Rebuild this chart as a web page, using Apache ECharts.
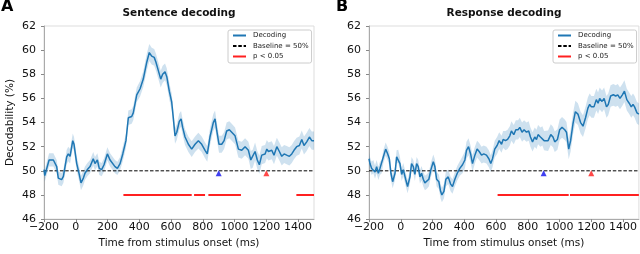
<!DOCTYPE html>
<html>
<head>
<meta charset="utf-8">
<script src="https://cdn.jsdelivr.net/npm/echarts@6/dist/echarts.min.js"></script>
<style>html,body{margin:0;padding:0;background:#fff}#c{width:640px;height:254px}</style>
</head>
<body>
<div id="c"></div>
<script>
// ---- Panel A: Sentence decoding ----
const tA = [-200,-195,-168,-141,-120,-110,-89,-78,-57,-47,
  -36,-19,-11,6,22,33,48,58,73,90,
  110,121,136,148,163,178,199,216,247,262,
  279,296,316,331,352,362,384,405,425,447,
  463,478,494,505,520,535,547,562,573,589,
  604,614,625,636,652,663,673,688,709,730,
  751,772,793,814,828,845,866,877,888,902,
  919,934,950,967,982,1003,1024,1045,1066,1087,
  1102,1114,1129,1143,1156,1171,1192,1203,1213,1234,
  1248,1266,1282,1297,1312,1328,1345,1360,1374,1391,
  1408,1423,1437,1454,1471,1486,1500];
const vA = [50.1,49.6,50.9,50.9,50.35,49.4,49.27,49.54,51.15,51.4,
  51.2,52.5,52.2,50.6,49.7,49.0,49.4,49.8,50.1,50.35,
  51.0,50.6,50.9,50.2,50.1,50.5,51.4,50.9,50.35,50.2,
  50.6,51.4,52.5,54.4,54.5,54.8,56.3,56.8,57.6,59.0,
  59.8,59.5,59.4,59.0,58.3,57.6,58.0,58.2,57.8,56.6,
  55.7,54.4,52.9,53.2,54.1,54.3,53.6,52.8,52.2,51.8,
  52.2,52.5,52.2,51.7,51.4,52.8,54.0,54.3,53.3,52.2,
  52.2,52.5,53.3,53.4,53.2,52.9,51.8,51.7,52.0,51.7,
  50.9,51.0,51.6,50.9,50.5,51.3,51.4,51.8,51.6,51.7,
  51.3,52.0,51.6,51.2,51.4,51.3,51.2,51.4,51.7,52.0,
  52.1,52.6,52.1,52.4,52.8,52.5,52.5];
const eA = [.5,.5,.55,.55,.55,.55,.55,.55,.6,.6,
  .6,.6,.6,.6,.6,.6,.6,.55,.55,.55,
  .55,.55,.55,.55,.55,.55,.55,.55,.55,.55,
  .55,.6,.6,.6,.6,.6,.6,.65,.65,.7,
  .7,.7,.7,.7,.7,.7,.7,.7,.7,.7,
  .7,.7,.65,.65,.65,.65,.65,.65,.65,.65,
  .65,.65,.65,.65,.65,.7,.7,.7,.7,.7,
  .7,.7,.7,.7,.7,.7,.7,.7,.7,.7,
  .75,.75,.75,.75,.75,.75,.75,.75,.75,.75,
  .75,.75,.75,.75,.75,.75,.75,.75,.75,.75,
  .75,.75,.75,.75,.75,.75,.75];
const sigA = [[300,730],[745,814],[835,1040],[1389,1500]];

// ---- Panel B: Response decoding ----
const tB = [-200,-194,-183,-173,-162,-152,-141,-131,-120,-110,
  -95,-82,-72,-62,-51,-36,-26,-16,-5,6,
  16,31,43,58,68,79,89,100,110,121,
  131,142,152,163,177,190,205,215,226,240,
  251,259,272,284,299,314,326,341,356,372,
  389,404,414,427,440,452,467,481,494,509,
  523,540,555,567,578,592,607,620,635,645,
  660,673,687,697,712,725,739,750,764,777,
  792,806,817,830,844,855,865,880,892,903,
  928,945,959,970,987,1001,1016,1033,1044,1058,
  1070,1085,1100,1116,1133,1148,1164,1179,1190,1201,
  1217,1232,1243,1253,1268,1281,1296,1307,1322,1339,
  1354,1367,1381,1396,1409,1424,1439,1452,1463,1473,
  1488,1500];
const vB = [51.0,50.6,50.2,50.35,49.9,50.35,49.8,50.2,50.35,51.15,
  51.8,51.4,51.0,49.8,49.1,49.8,51.15,51.2,50.6,49.7,
  50.1,49.3,48.7,49.5,50.6,50.35,49.7,50.6,50.35,49.5,
  49.8,49.3,49.0,49.1,49.3,50.1,50.75,50.35,49.3,49.1,
  48.3,48.0,48.3,49.3,49.5,48.9,48.7,49.3,49.8,50.2,
  50.5,50.9,51.7,52.0,51.4,50.6,51.3,51.8,51.6,51.3,
  51.4,51.3,51.0,50.6,51.0,51.8,52.1,52.5,52.2,52.6,
  52.5,52.6,52.9,53.3,53.0,53.4,53.4,53.6,53.2,53.4,
  53.2,53.3,52.8,52.4,52.8,52.6,53.0,52.8,52.9,52.5,
  52.5,53.0,52.8,52.4,52.6,53.4,53.6,53.4,53.2,51.8,
  52.5,53.9,54.9,54.7,54.0,53.7,54.4,55.2,55.5,55.3,
  55.3,55.9,55.6,56.0,55.75,56.0,55.3,55.5,56.2,56.3,
  56.2,56.3,56.0,56.3,56.6,55.9,55.6,55.3,55.5,55.3,
  54.8,54.7];
const eB = [.55,.55,.55,.55,.55,.55,.55,.55,.55,.55,
  .55,.55,.55,.55,.55,.55,.55,.55,.55,.55,
  .55,.55,.55,.55,.55,.55,.55,.55,.55,.55,
  .6,.6,.6,.6,.6,.6,.6,.6,.6,.6,
  .6,.6,.6,.6,.6,.6,.6,.6,.6,.6,
  .7,.7,.7,.7,.7,.7,.7,.7,.7,.7,
  .7,.7,.7,.7,.7,.7,.7,.7,.7,.7,
  .8,.8,.8,.8,.8,.8,.8,.8,.8,.8,
  .8,.8,.8,.8,.8,.8,.8,.8,.8,.8,
  .85,.85,.85,.85,.85,.85,.85,.85,.85,.85,
  .9,.9,.9,.9,.9,.9,.9,.9,.9,.9,
  .9,.9,.9,.9,.9,.9,.9,.9,.9,.9,
  .9,.9,.9,.9,.9,.9,.9,.9,.9,.9,
  .9,.9];
const sigB = [[610,1058],[1066,1500]];

// shared
const xTicks = {min: -200, max: 1500, interval: 200};
const yTicks = {min: 46, max: 62, interval: 2};
const baseline = 50;
const sigLevel = 48;
const markerY = 49.8;
const markerTimes = [900, 1200];
const titles = ['Sentence decoding', 'Response decoding'];
const letters = ['A', 'B'];
const xName = 'Time from stimulus onset (ms)';
const yName = 'Decodability (%)';

const FONT = 'DejaVu Sans';
const BLUE = '#1f77b4';
const grids = [
  {left: 44, top: 26, width: 270, height: 197},
  {left: 369, top: 26, width: 270, height: 197}
];

function bandSeries(t, v, e, idx) {
  return {
    type: 'custom', xAxisIndex: idx, yAxisIndex: idx, silent: true, z: 1,
    data: t.map((x, i) => [x, v[i] - e[i], v[i] + e[i]]),
    renderItem: function (params, api) {
      if (params.dataIndex !== 0) return null;
      const up = [], lo = [];
      for (let i = 0; i < t.length; i++) {
        up.push(api.coord([t[i], v[i] + e[i]]));
        lo.push(api.coord([t[i], v[i] - e[i]]));
      }
      return {type: 'polygon', shape: {points: up.concat(lo.reverse())},
        style: {fill: 'rgba(31,119,180,0.22)'}};
    }
  };
}
function sigData(segs) {
  const d = [];
  segs.forEach(s => { d.push([s[0], sigLevel]); d.push([s[1], sigLevel]); d.push([s[1] + 0.5, null]); });
  return d;
}
function panelSeries(t, v, e, segs, idx) {
  return [
    bandSeries(t, v, e, idx),
    {name: 'Decoding', type: 'line', xAxisIndex: idx, yAxisIndex: idx, z: 3,
      data: t.map((x, i) => [x, v[i]]), symbol: 'none', showSymbol: false,
      lineStyle: {color: BLUE, width: 1.5}, itemStyle: {color: BLUE}},
    {name: 'Baseline = 50%', type: 'line', xAxisIndex: idx, yAxisIndex: idx, z: 2,
      data: [[xTicks.min, baseline], [xTicks.max, baseline]], symbol: 'none',
      lineStyle: {color: '#000', width: 1, type: [3.5, 1.8]}, itemStyle: {color: '#000'}},
    {name: 'p < 0.05', type: 'line', xAxisIndex: idx, yAxisIndex: idx, z: 2,
      data: sigData(segs), symbol: 'none', connectNulls: false,
      lineStyle: {color: '#ff2020', width: 2}, itemStyle: {color: '#ff2020'}},
    {type: 'scatter', xAxisIndex: idx, yAxisIndex: idx, z: 4, silent: true,
      symbol: 'triangle', symbolSize: 6,
      data: [
        {value: [markerTimes[0], markerY], itemStyle: {color: '#1010ee'}},
        {value: [markerTimes[1], markerY], itemStyle: {color: '#ff1a1a'}}
      ]}
  ];
}
function xAxis(idx) {
  return {
    type: 'value', gridIndex: idx, min: xTicks.min, max: xTicks.max, interval: xTicks.interval,
    name: xName, nameLocation: 'middle', nameGap: 17,
    nameTextStyle: {fontSize: 10.5, color: '#111', fontFamily: FONT},
    axisLine: {show: true, onZero: false, lineStyle: {color: '#aaa', width: 1}},
    axisTick: {show: true, length: 3, lineStyle: {color: '#888'}},
    splitLine: {show: false},
    axisLabel: {fontSize: 11, color: '#111', fontFamily: FONT, margin: 3, showMaxLabel: false,
      formatter: v => (v < 0 ? '\u2212' + Math.abs(v) : String(v))}
  };
}
function yAxis(idx) {
  return {
    type: 'value', gridIndex: idx, min: yTicks.min, max: yTicks.max, interval: yTicks.interval,
    name: idx === 0 ? yName : '', nameLocation: 'middle', nameGap: 28,
    nameTextStyle: {fontSize: 10.5, color: '#111', fontFamily: FONT},
    axisLine: {show: true, onZero: false, lineStyle: {color: '#aaa', width: 1}},
    axisTick: {show: true, length: 3, lineStyle: {color: '#888'}},
    splitLine: {show: false},
    axisLabel: {fontSize: 11, color: '#111', fontFamily: FONT, margin: 8}
  };
}
function legend(left) {
  return {
    left: left, top: 30, orient: 'vertical', selectedMode: false,
    data: ['Decoding', 'Baseline = 50%', 'p < 0.05'],
    itemWidth: 13, itemHeight: 7, itemGap: 3.5,
    padding: [2, 3, 3, 4],
    itemStyle: {opacity: 0, borderWidth: 0},
    backgroundColor: '#fff', borderColor: '#ccc', borderWidth: 1, borderRadius: 2,
    textStyle: {fontSize: 7, color: '#222', fontFamily: FONT, padding: [0, 0, 0, 2]}
  };
}

const chart = echarts.init(document.getElementById('c'), null, {renderer: 'canvas'});
chart.setOption({
  animation: false,
  textStyle: {fontFamily: FONT},
  title: [
    {text: titles[0], left: 179, top: 8, textAlign: 'center', padding: 0,
      textStyle: {fontSize: 10.5, fontWeight: 'bold', color: '#111', fontFamily: FONT}},
    {text: titles[1], left: 504, top: 8, textAlign: 'center', padding: 0,
      textStyle: {fontSize: 10.5, fontWeight: 'bold', color: '#111', fontFamily: FONT}},
    {text: letters[0], left: 1, top: -1, padding: 0,
      textStyle: {fontSize: 16, fontWeight: 'bold', color: '#000', fontFamily: FONT}},
    {text: letters[1], left: 336, top: -1, padding: 0,
      textStyle: {fontSize: 16, fontWeight: 'bold', color: '#000', fontFamily: FONT}}
  ],
  grid: grids.map(g => Object.assign({show: true, borderColor: '#ddd', borderWidth: 1, backgroundColor: 'transparent'}, g)),
  legend: [legend(228), legend(553)],
  xAxis: [xAxis(0), xAxis(1)],
  yAxis: [yAxis(0), yAxis(1)],
  series: panelSeries(tA, vA, eA, sigA, 0).concat(panelSeries(tB, vB, eB, sigB, 1))
});
</script>
</body>
</html>
